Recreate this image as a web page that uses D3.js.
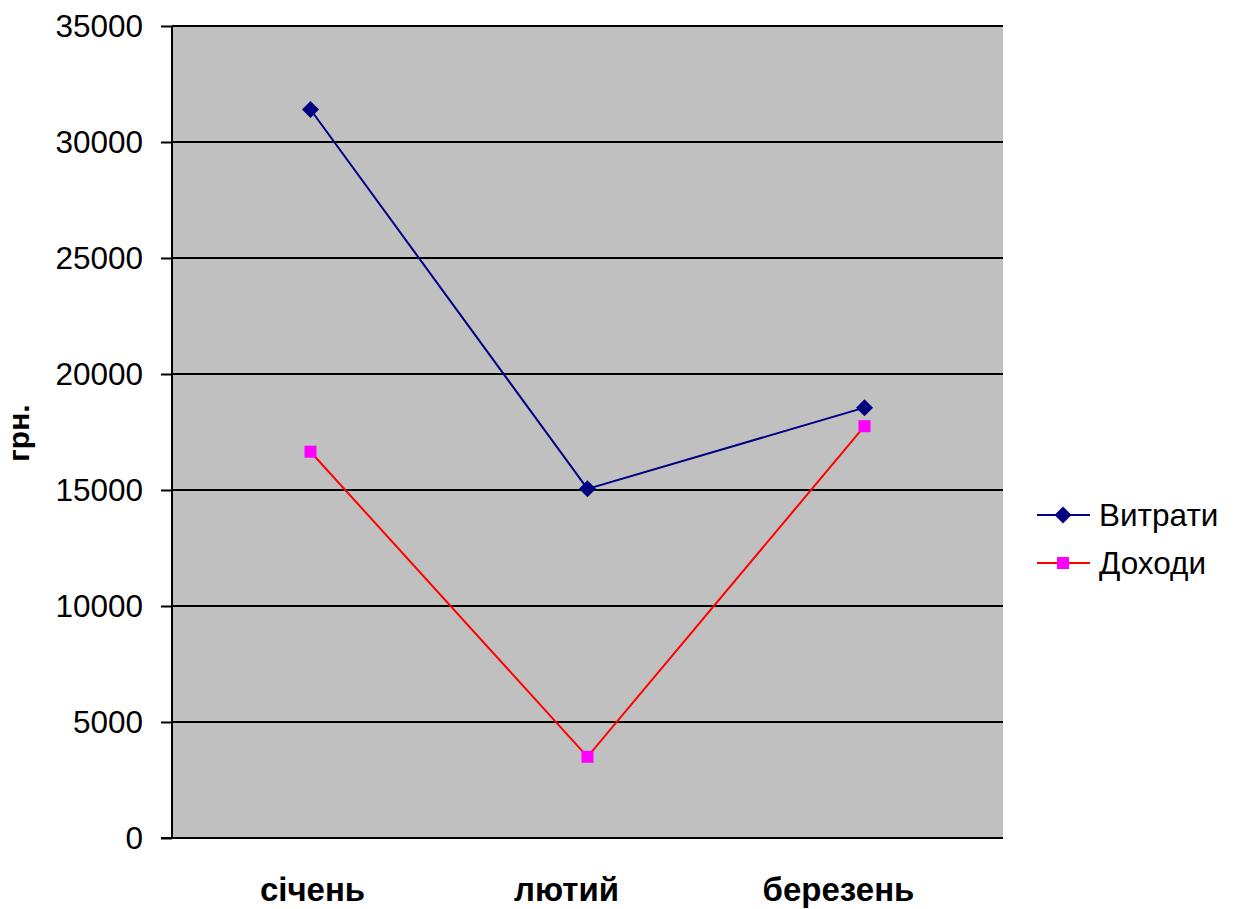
<!DOCTYPE html>
<html><head><meta charset="utf-8">
<script src="https://cdn.jsdelivr.net/npm/d3@7"></script>
<style>body{margin:0;background:#fff;} svg{display:block;font-family:"Liberation Sans",Arial,sans-serif;}</style>
</head><body>
<svg id="c" width="1235" height="909"></svg>
<script>
const categories = ["січень", "лютий", "березень"];
const expenses = [31400, 15050, 18550];
const incomes = [16650, 3500, 17750];
const yTicks = [0, 5000, 10000, 15000, 20000, 25000, 30000, 35000];
const seriesNames = ["Витрати", "Доходи"];

const svg = d3.select("#c");
const L = 172, R = 1003, T = 26, B = 838;
const x = d3.scaleBand().domain(categories).range([L, R]);
const y = d3.scaleLinear().domain([0, 35000]).range([B, T]);
const FF = "Liberation Sans, Arial, sans-serif";

svg.append("rect").attr("x", L).attr("y", T).attr("width", R - L).attr("height", B - T).attr("fill", "#C0C0C0");

// gridlines
svg.append("g").selectAll("line").data(yTicks.filter(d => d > 0)).join("line")
  .attr("x1", L).attr("x2", R).attr("y1", d => y(d)).attr("y2", d => y(d))
  .attr("stroke", "#000").attr("stroke-width", 2);

// y axis
const ya = svg.append("g").attr("transform", `translate(${L},0)`)
  .call(d3.axisLeft(y).tickValues(yTicks).tickSize(11).tickPadding(18).tickFormat(d3.format("d")));
ya.select(".domain").attr("stroke", "#000").attr("stroke-width", 2).attr("d", `M0,${T}V${B}`);
ya.selectAll(".tick line").attr("stroke", "#000").attr("stroke-width", 2);
ya.selectAll(".tick text").attr("font-size", 31.5).attr("fill", "#000").attr("font-family", FF);

// x axis
const labelShift = [2, -21, -26];
const xa = svg.append("g").attr("transform", `translate(0,${B})`)
  .call(d3.axisBottom(x).tickSize(0));
xa.select(".domain").attr("d", `M${L - 11},0H${R}`).attr("stroke", "#000").attr("stroke-width", 2);
xa.selectAll(".tick text").attr("font-size", 33).attr("font-weight", "bold").attr("fill", "#000").attr("font-family", FF)
  .attr("y", 63).attr("dy", 0).attr("dx", (d, i) => labelShift[i]);

// y label
svg.append("text").attr("transform", `translate(29,433) rotate(-90)`).attr("text-anchor", "middle")
  .attr("font-size", 30).attr("font-weight", "bold").attr("font-family", FF).text("грн.");

const cx = d => x(d) + x.bandwidth() / 2;
const line = d3.line().x((d, i) => cx(categories[i])).y(d => y(d));

svg.append("path").datum(expenses).attr("d", line).attr("fill", "none").attr("stroke", "#000080").attr("stroke-width", 2);
svg.append("path").datum(incomes).attr("d", line).attr("fill", "none").attr("stroke", "#FF0000").attr("stroke-width", 2);

const diamond = (g, px, py) => g.append("rect").attr("x", -6).attr("y", -6).attr("width", 12).attr("height", 12)
  .attr("transform", `translate(${px},${py}) rotate(45)`).attr("fill", "#000080");
const square = (g, px, py) => g.append("rect").attr("x", px - 6).attr("y", py - 6).attr("width", 12).attr("height", 12).attr("fill", "#FF00FF");

const mg = svg.append("g");
expenses.forEach((v, i) => diamond(mg, cx(categories[i]), y(v)));
incomes.forEach((v, i) => square(mg, cx(categories[i]), y(v)));

// legend
const lg = svg.append("g");
const legendY = [515, 563];
const colors = ["#000080", "#FF0000"];
seriesNames.forEach((n, i) => {
  lg.append("line").attr("x1", 1037).attr("x2", 1090).attr("y1", legendY[i]).attr("y2", legendY[i]).attr("stroke", colors[i]).attr("stroke-width", 2);
  if (i === 0) diamond(lg, 1063, legendY[i]); else square(lg, 1063, legendY[i]);
  lg.append("text").attr("x", 1099).attr("y", legendY[i]).attr("dy", "0.36em").attr("font-size", 31.5).attr("font-family", FF).text(n);
});
</script>
</body></html>
